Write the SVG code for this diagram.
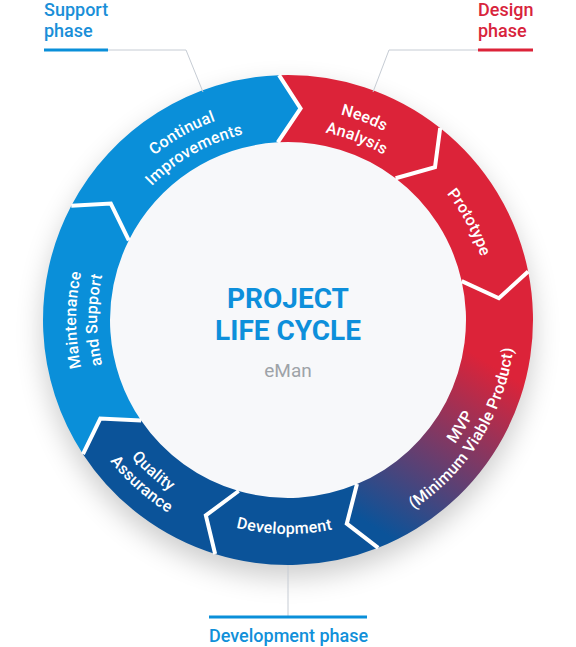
<svg xmlns="http://www.w3.org/2000/svg" width="576" height="647" viewBox="0 0 576 647">
<style>
.seg-label{font-family:Roboto,"Liberation Sans",sans-serif;font-size:16px;font-weight:500;fill:#ffffff;letter-spacing:0.3px}
.phase{font-family:Roboto,"Liberation Sans",sans-serif;font-size:18px;font-weight:500}
.lead{fill:none;stroke:#c6ccd4;stroke-width:1}
.sep{fill:none;stroke:#ffffff;stroke-width:4;stroke-linejoin:miter}
.title{font-family:Roboto,"Liberation Sans",sans-serif;font-size:28px;font-weight:700;fill:#0d8fdb;text-anchor:middle}
</style>
<defs>
<filter id="shadow" x="-40%" y="-40%" width="180%" height="180%"><feGaussianBlur stdDeviation="14"/></filter>
<linearGradient id="mvpGrad" gradientUnits="userSpaceOnUse" x1="500" y1="370" x2="395" y2="540">
<stop offset="0" stop-color="#dc2339"/>
<stop offset="1" stop-color="#0b5399"/>
</linearGradient>
<path id="t212" d="M88.79,247.49 A212,212 0 0 1 487.21,247.49"/>
<path id="t191" d="M108.52,254.67 A191,191 0 0 1 467.48,254.67"/>
<path id="t203" d="M97.24,250.57 A203,203 0 0 1 478.76,250.57"/>
<path id="b208" d="M92.54,391.14 A208,208 0 0 0 483.46,391.14"/>
<path id="b227" d="M74.69,397.64 A227,227 0 0 0 501.31,397.64"/>
<path id="b214" d="M86.91,393.19 A214,214 0 0 0 489.09,393.19"/>
</defs>
<rect width="576" height="647" fill="#ffffff"/>
<circle cx="288" cy="332" r="245" fill="#000000" opacity="0.2" filter="url(#shadow)"/>
<circle cx="288" cy="320" r="180" fill="#f7f8fa"/>

<g id="needs-analysis">
<path fill="#dc2339" d="M279.02,75.16 A245,245 0 0 1 440.18,128.00 L435.0,167.24 L395.62,178.22 A178,178 0 0 0 277.75,142.30 L300.57,108.37 Z"/>
<g transform="rotate(20.7 288 320)">
<text class="seg-label" text-anchor="middle"><textPath href="#t212" startOffset="50%">Needs</textPath></text>
<text class="seg-label" text-anchor="middle"><textPath href="#t191" startOffset="50%">Analysis</textPath></text>
</g>
</g>
<g id="prototype">
<path fill="#dc2339" d="M440.18,128.00 A245,245 0 0 1 528.17,271.57 L498.88,298.21 L461.71,281.17 A178,178 0 0 0 395.62,178.22 L435.0,167.24 Z"/>
<g transform="rotate(61.7 288 320)">
<text class="seg-label" text-anchor="middle"><textPath href="#t203" startOffset="50%">Prototype</textPath></text>
</g>
</g>
<g id="mvp">
<path fill="url(#mvpGrad)" d="M528.17,271.57 A245,245 0 0 1 378.19,547.80 L346.79,523.69 L356.98,484.09 A178,178 0 0 0 461.71,281.17 L498.88,298.21 Z"/>
<g transform="rotate(-58.2 288 320)">
<text class="seg-label" text-anchor="middle"><textPath href="#b208" startOffset="50%">MVP</textPath></text>
<text class="seg-label" text-anchor="middle"><textPath href="#b227" startOffset="50%">(Minimum Viable Product)</textPath></text>
</g>
</g>
<g id="development">
<path fill="#0b5399" d="M378.19,547.80 A245,245 0 0 1 215.14,553.92 L205.85,515.43 L238.64,491.02 A178,178 0 0 0 356.98,484.09 L346.79,523.69 Z"/>
<g transform="rotate(1 288 320)">
<text class="seg-label" text-anchor="middle"><textPath href="#b214" startOffset="50%">Development</textPath></text>
</g>
</g>
<g id="quality-assurance">
<path fill="#0b5399" d="M215.14,553.92 A245,245 0 0 1 82.99,454.13 L100.30,418.55 L141.13,420.56 A178,178 0 0 0 238.64,491.02 L205.85,515.43 Z"/>
<g transform="rotate(41.7 288 320)">
<text class="seg-label" text-anchor="middle"><textPath href="#b208" startOffset="50%">Quality</textPath></text>
<text class="seg-label" text-anchor="middle"><textPath href="#b227" startOffset="50%">Assurance</textPath></text>
</g>
</g>
<g id="maintenance-support">
<path fill="#0a8fd9" d="M82.99,454.13 A245,245 0 0 1 71.28,205.74 L110.81,203.61 L128.84,240.30 A178,178 0 0 0 141.13,420.56 L100.30,418.55 Z"/>
<g transform="rotate(-90 288 320)">
<text class="seg-label" text-anchor="middle"><textPath href="#t212" startOffset="50%">Maintenance</textPath></text>
<text class="seg-label" text-anchor="middle"><textPath href="#t191" startOffset="50%">and Support</textPath></text>
</g>
</g>
<g id="continual-improvements">
<path fill="#0a8fd9" d="M71.28,205.74 A245,245 0 0 1 279.02,75.16 L300.57,108.37 L277.75,142.30 A178,178 0 0 0 128.84,240.30 L110.81,203.61 Z"/>
<g transform="rotate(-29.5 288 320)">
<text class="seg-label" text-anchor="middle"><textPath href="#t212" startOffset="50%">Continual</textPath></text>
<text class="seg-label" text-anchor="middle"><textPath href="#t191" startOffset="50%">Improvements</textPath></text>
</g>
</g>

<g id="separators">
<polyline class="sep" points="279.02,75.16 300.57,108.37 277.75,142.30"/>
<polyline class="sep" points="440.18,128.00 435.0,167.24 395.62,178.22"/>
<polyline class="sep" points="528.17,271.57 498.88,298.21 461.71,281.17"/>
<polyline class="sep" points="378.19,547.80 346.79,523.69 356.98,484.09"/>
<polyline class="sep" points="215.14,553.92 205.85,515.43 238.64,491.02"/>
<polyline class="sep" points="82.99,454.13 100.30,418.55 141.13,420.56"/>
<polyline class="sep" points="71.28,205.74 110.81,203.61 128.84,240.30"/>
</g>

<g id="center">
<text class="title" x="288" y="308">PROJECT</text>
<text class="title" x="288" y="340">LIFE CYCLE</text>
<text x="288" y="377" text-anchor="middle" font-family="Roboto,'Liberation Sans',sans-serif" font-size="19" fill="#9ea3a8">eMan</text>
</g>

<g id="connectors">
<polyline class="lead" points="108,50 186,50 203,92"/>
<polyline class="lead" points="478,50 389,50 373,92"/>
<line class="lead" x1="288" y1="565" x2="288" y2="616"/>
</g>

<g id="support-phase">
<text class="phase" fill="#1a8fd8" x="44" y="16">Support</text>
<text class="phase" fill="#1a8fd8" x="44" y="37">phase</text>
<line x1="44" y1="50" x2="108" y2="50" stroke="#0a8fd9" stroke-width="3"/>
</g>
<g id="design-phase">
<text class="phase" fill="#d8243c" x="478" y="16">Design</text>
<text class="phase" fill="#d8243c" x="478" y="37">phase</text>
<line x1="478" y1="50" x2="533" y2="50" stroke="#dc2339" stroke-width="3"/>
</g>
<g id="development-phase">
<line x1="209" y1="617" x2="367" y2="617" stroke="#0a8fd9" stroke-width="3"/>
<text class="phase" fill="#1190d9" x="209" y="642">Development phase</text>
</g>
</svg>
